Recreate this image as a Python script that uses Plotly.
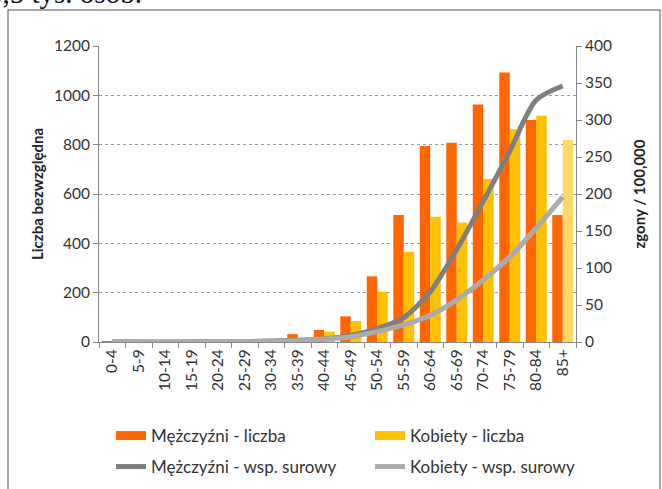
import plotly.graph_objects as go

age_groups = ["0-4", "5-9", "10-14", "15-19", "20-24", "25-29", "30-34", "35-39", "40-44",
              "45-49", "50-54", "55-59", "60-64", "65-69", "70-74", "75-79", "80-84", "85+"]
men_count = [2, 0, 0, 1, 1, 2, 5, 32, 49, 104, 266, 515, 795, 808, 963, 1093, 900, 515]
women_count = [1, 0, 0, 0, 1, 1, 3, 12, 42, 85, 204, 366, 508, 484, 661, 863, 917, 819]
men_rate = [0.5, 0.1, 0.1, 0.2, 0.3, 0.5, 1.5, 2.5, 4, 9, 18, 33, 68, 125, 190, 258, 327, 346]
women_rate = [0.3, 0.1, 0.1, 0.1, 0.2, 0.4, 1, 2, 4, 7, 14, 23, 36, 57, 84, 115, 154, 196]

ORANGE = "#FF6600"
GOLD = "#FFC000"
GOLD_LIGHT = "#FFD966"
DARK_GRAY = "#7F7F7F"
LIGHT_GRAY = "#ABABAB"
FONT = "Lato"

women_colors = [GOLD] * (len(age_groups) - 1) + [GOLD_LIGHT]

W, H = 662, 489
L, R, T, B = 99, 86, 46, 147
pw, ph = W - L - R, H - T - B


def px_x(x):
    return (x - L) / pw


def px_y(y):
    return (H - B - y) / ph


fig = go.Figure()
fig.add_trace(go.Bar(x=age_groups, y=men_count, name="Mężczyźni - liczba",
                     marker=dict(color=ORANGE, line=dict(width=0)), showlegend=False))
fig.add_trace(go.Bar(x=age_groups, y=women_count, name="Kobiety - liczba",
                     marker=dict(color=women_colors, line=dict(width=0)), showlegend=False))
fig.add_trace(go.Scatter(x=age_groups, y=men_rate, name="Mężczyźni - wsp. surowy", yaxis="y2",
                         mode="lines", line=dict(color=DARK_GRAY, width=5, shape="spline", smoothing=0.8),
                         showlegend=False))
fig.add_trace(go.Scatter(x=age_groups, y=women_rate, name="Kobiety - wsp. surowy", yaxis="y2",
                         mode="lines", line=dict(color=LIGHT_GRAY, width=5, shape="spline", smoothing=0.8),
                         showlegend=False))

# legend entries (legend-only traces), one legend box per entry for a 2x2 grid
legend_items = [
    ("Mężczyźni - liczba", ORANGE, 9, "legend", 111, 436),
    ("Kobiety - liczba", GOLD, 9, "legend2", 370, 436),
    ("Mężczyźni - wsp. surowy", DARK_GRAY, 5, "legend3", 111, 467),
    ("Kobiety - wsp. surowy", LIGHT_GRAY, 5, "legend4", 370, 467),
]
legend_layouts = {}
for name, color, width, lg, lx, ly in legend_items:
    fig.add_trace(go.Scatter(x=[None], y=[None], name=name, mode="lines",
                             line=dict(color=color, width=width), legend=lg))
    legend_layouts[lg] = dict(orientation="h", xanchor="left", yanchor="middle",
                              x=px_x(lx), y=px_y(ly),
                              font=dict(family=FONT, size=17, color="#333333"),
                              bgcolor="rgba(0,0,0,0)", itemclick=False)

fig.update_layout(
    width=W, height=H,
    margin=dict(l=L, r=R, t=T, b=B, autoexpand=False),
    paper_bgcolor="white", plot_bgcolor="white",
    font=dict(family=FONT, size=15.5, color="#333333"),
    barmode="group", bargap=0.21, bargroupgap=0,
    **legend_layouts,
    xaxis=dict(type="category", tickangle=-90, tickson="boundaries", ticks="outside",
               ticklen=5, tickcolor="#868686", showline=True, linecolor="#868686", linewidth=1,
               showgrid=False, tickfont=dict(size=15.5, color="#333333"), fixedrange=True),
    yaxis=dict(range=[0, 1200], dtick=200, ticks="outside", ticklen=5, tickcolor="#868686",
               showline=True, linecolor="#868686", linewidth=1,
               showgrid=True, gridcolor="#9a9a9a", griddash="dot", gridwidth=1,
               zeroline=False, tickfont=dict(size=15.5, color="#333333"),
               title=dict(text="<b>Liczba bezwzględna</b>", font=dict(size=15, color="#222222"), standoff=6)),
    yaxis2=dict(range=[0, 400], dtick=50, overlaying="y", side="right", ticks="outside", ticklen=5,
                tickcolor="#868686", showline=True, linecolor="#868686", linewidth=1,
                showgrid=False, zeroline=False, tickfont=dict(size=15.5, color="#333333"),
                title=dict(text="<b>zgony / 100,000</b>", font=dict(size=15, color="#222222"), standoff=23)),
    shapes=[dict(type="rect", xref="paper", yref="paper",
                 x0=px_x(8), x1=px_x(660), y0=px_y(500), y1=px_y(10),
                 line=dict(color="#8a8a8a", width=1.5), fillcolor="rgba(0,0,0,0)", layer="below")],
    annotations=[dict(text="5,5 tys. osób.", xref="paper", yref="paper",
                      x=px_x(-14), y=px_y(11), xanchor="left", yanchor="bottom",
                      showarrow=False, font=dict(family="Liberation Serif", size=29, color="#111111"))],
)

fig.write_html("out.html", config={"displayModeBar": False},
               post_script="document.body.style.margin='0';")
